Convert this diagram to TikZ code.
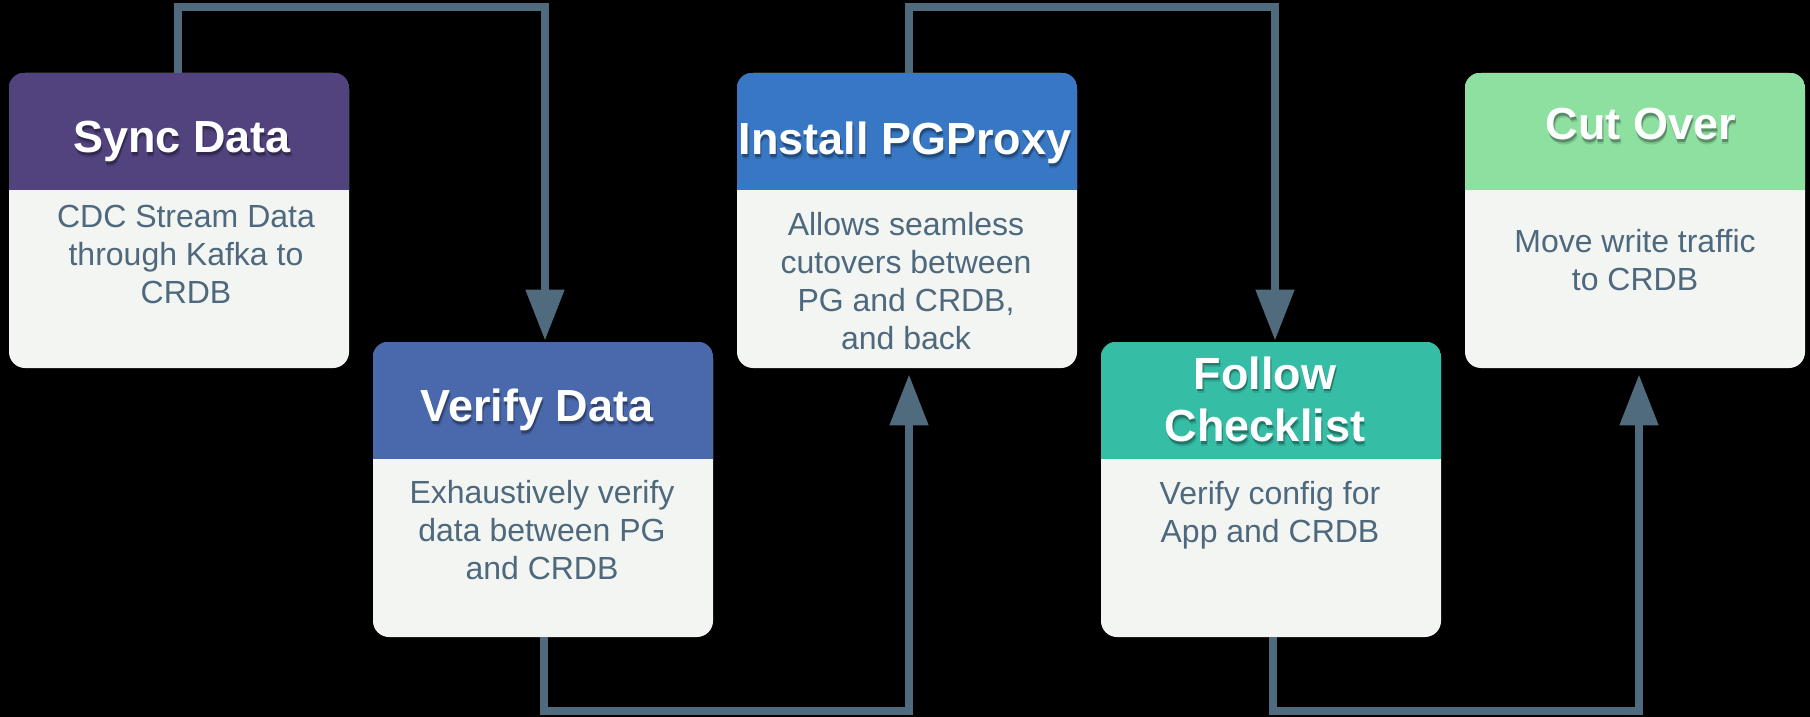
\documentclass[tikz,border=0pt]{standalone}
\usepackage{fontspec}
\setmainfont{Liberation Sans}
\usetikzlibrary{arrows.meta}
\definecolor{syncc}{RGB}{82,67,127}
\definecolor{verifyc}{RGB}{74,105,173}
\definecolor{installc}{RGB}{55,119,196}
\definecolor{followc}{RGB}{53,189,166}
\definecolor{cutc}{RGB}{141,224,160}
\definecolor{bodyc}{HTML}{F3F5F2}
\definecolor{textc}{RGB}{78,104,125}
\definecolor{linec}{RGB}{80,107,126}
\tikzset{
  card/.style={rectangle, fill=bodyc, rounded corners=8pt, minimum width=170pt,
    minimum height=147.5pt, inner sep=0pt},
  htext/.style={anchor=base, inner sep=0pt, text=white,
    font=\fontsize{22.5pt}{26pt}\selectfont\bfseries, align=center},
  hshadow/.style={htext, text=black},
  btext/.style={anchor=base, inner sep=0pt, text=textc,
    font=\fontsize{16pt}{19pt}\selectfont, align=center},
  conn/.style={draw=linec, line width=4pt,
    -{Triangle[length=25.5pt,width=18.5pt]}, fill=none},
}
\newcommand\headline[4]{%
  \node[hshadow, text opacity=0.12] (#1s2) at ([xshift=0.7pt,yshift=-2.4pt]#2,#3) {#4};
  \node[hshadow, text opacity=0.28] (#1s1) at ([xshift=0.4pt,yshift=-1.3pt]#2,#3) {#4};
  \node[htext] (#1) at (#2,#3) {#4};
}
\newcommand\cardhead[2]{%
  \begin{scope}
    \clip[rounded corners=8pt] (#1.north west) rectangle (#1.south east);
    \fill[#2] (#1.north west) rectangle ([yshift=-58.5pt]#1.north east);
  \end{scope}
}
\begin{document}
\begin{tikzpicture}[x=0.5pt,y=-0.5pt]
\useasboundingbox (0,0) rectangle (1810,717);
\fill[black] (0,0) rectangle (1810,717);

% cards
\node[card] (sync) at (179,220.5) {};
\node[card] (verify) at (543,489.5) {};
\node[card] (install) at (907,220.5) {};
\node[card] (follow) at (1271,489.5) {};
\node[card] (cut) at (1635,220.5) {};

\cardhead{sync}{syncc}
\cardhead{verify}{verifyc}
\cardhead{install}{installc}
\cardhead{follow}{followc}
\cardhead{cut}{cutc}

% headings
\headline{syncT}{182}{153}{Sync Data}
\headline{verifyT}{537}{421.5}{Verify Data}
\headline{installT}{905}{154.5}{Install PGProxy}
\headline{followT}{1265}{389}{Follow}
\headline{followTb}{1265}{441.5}{Checklist}
\headline{cutT}{1641}{140}{Cut Over}

% body texts (anchor base = baseline of the last line)
\node[btext] (syncB) at (186,303.5) {CDC Stream Data\\through Kafka to\\CRDB};
\node[btext] (verifyB) at (542,579.5) {Exhaustively verify\\data between PG\\and CRDB};
\node[btext] (installB) at (906,349.5) {Allows seamless\\cutovers between\\PG and CRDB,\\and back};
\node[btext] (followB) at (1270,542) {Verify config for\\App and CRDB};
\node[btext] (cutB) at (1635,290) {Move write traffic\\to CRDB};

% connectors
\draw[conn] ([xshift=-0.5pt]sync.north) -- ++(0,-66) -| ([xshift=1pt,yshift=0.5pt]verify.north);
\draw[conn] ([xshift=0.5pt]verify.south) -- ++(0,74) -| ([xshift=1pt,yshift=-3pt]install.south);
\draw[conn] ([xshift=1pt]install.north) -- ++(0,-66) -| ([xshift=2pt,yshift=0.5pt]follow.north);
\draw[conn] ([xshift=1pt]follow.south) -- ++(0,74) -| ([xshift=2pt,yshift=-3pt]cut.south);
\end{tikzpicture}
\end{document}
